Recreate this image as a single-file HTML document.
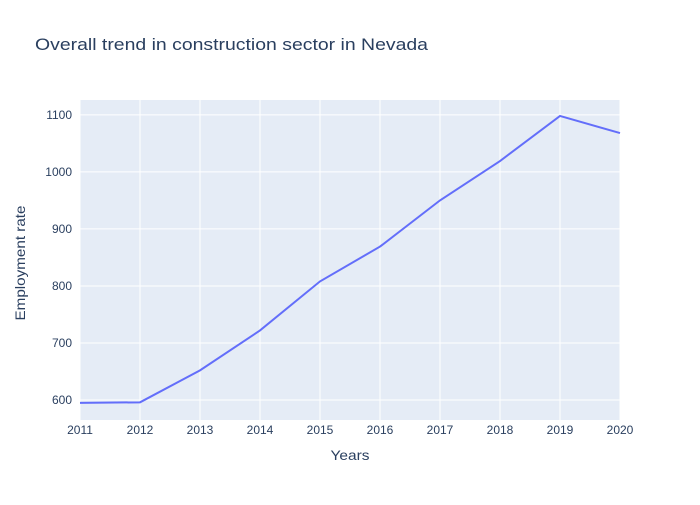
<!DOCTYPE html>
<html><head><meta charset="utf-8"><style>
body{margin:0;background:#fff;font-family:"Liberation Sans",sans-serif;}
svg text{font-family:"Liberation Sans",sans-serif;}
</style></head><body>
<svg id="chart" width="700" height="500">
<rect width="700" height="500" fill="#fff"/>
<text x="35" y="50" font-size="17" fill="#2a3f5f" textLength="393" lengthAdjust="spacingAndGlyphs">Overall trend in construction sector in Nevada</text>
<rect x="80" y="100" width="540" height="320" fill="#e5ecf6"/>
<g id="grid"></g><g id="series"></g><g id="ticks"></g>
<text x="350" y="460" font-size="14" fill="#2a3f5f" text-anchor="middle" textLength="39" lengthAdjust="spacingAndGlyphs">Years</text>
<text transform="translate(25,263) rotate(-90)" font-size="14" fill="#2a3f5f" text-anchor="middle" textLength="115" lengthAdjust="spacingAndGlyphs">Employment rate</text>
</svg>
<script>
const years=[2011,2012,2013,2014,2015,2016,2017,2018,2019,2020];
const values=[595,596,652,722,808,869,950,1019,1098,1068];
const yTicks=[600,700,800,900,1000,1100];
const ns="http://www.w3.org/2000/svg";
const X0=80,X1=620,Y0=420,Y1=100,ymin=565,ymax=1126;
const xs=v=>X0+(v-years[0])/(years[years.length-1]-years[0])*(X1-X0);
const ys=v=>Y0-(v-ymin)/(ymax-ymin)*(Y0-Y1);
const grid=document.getElementById('grid'),tk=document.getElementById('ticks'),se=document.getElementById('series');
function mk(t,a,p){const e=document.createElementNS(ns,t);for(const k in a)e.setAttribute(k,a[k]);p.appendChild(e);return e;}
years.forEach(y=>{
 const l=mk('line',{x1:xs(y),x2:xs(y),y1:Y1,y2:Y0,stroke:'#fff','stroke-width':1},grid);
 
 
 const t=mk('text',{x:xs(y),y:434,'font-size':12,fill:'#2a3f5f','text-anchor':'middle'},tk);t.textContent=y;
 
 
});
yTicks.forEach(v=>{
 const l=mk('line',{x1:X0,x2:X1,y1:ys(v),y2:ys(v),stroke:'#fff','stroke-width':1},grid);
 
 
 const t=mk('text',{x:72,y:ys(v)+4,'font-size':12,fill:'#2a3f5f','text-anchor':'end'},tk);t.textContent=v;
 
 
});
const p=mk('path',{d:years.map((y,i)=>(i?'L':'M')+xs(y)+','+ys(values[i])).join(''),fill:'none',stroke:'#636efa','stroke-width':2},se);


</script>
</body></html>
